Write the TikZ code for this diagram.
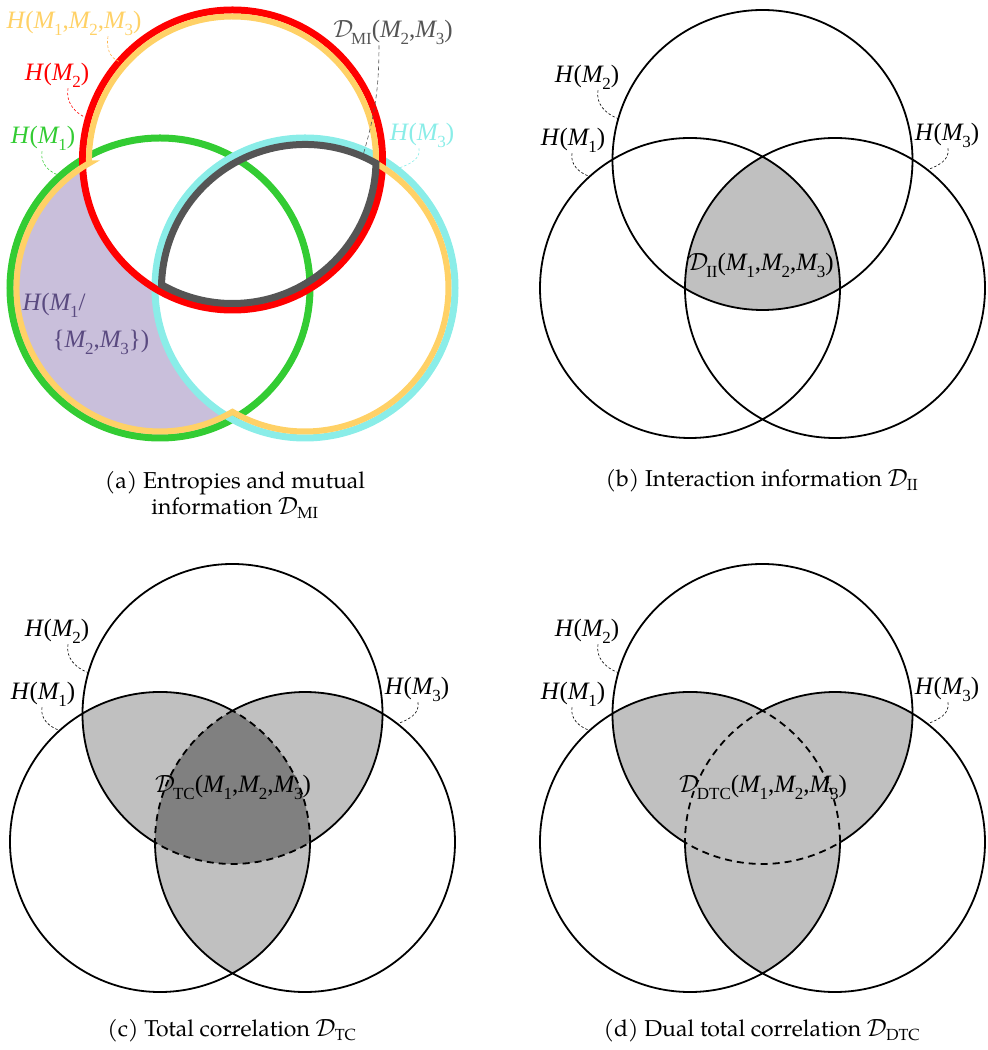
\documentclass[tikz,border=0pt]{standalone}
\usepackage{fontspec}
\setmainfont{TeX Gyre Pagella}
\newfontfamily\labfont{Liberation Serif}

\definecolor{entgreen}{HTML}{33CC33}
\definecolor{entred}{HTML}{FF0000}
\definecolor{entcyan}{HTML}{8AEDE8}
\definecolor{entyellow}{HTML}{FFD166}
\definecolor{entsquig}{HTML}{FFB347}
\definecolor{migrey}{HTML}{555555}
\definecolor{condfill}{HTML}{C9BFDB}
\definecolor{condtext}{HTML}{5A4A80}
\definecolor{lightfill}{HTML}{C0C0C0}
\definecolor{darkfill}{HTML}{808080}

% subscripts and variables of the labels
\newcommand\sbx[1]{\lower0.28em\hbox{\fontsize{17}{17}\selectfont #1}}
\newcommand\Mvar[1]{\textit{M}\kern-1.5pt\sbx{#1}}
\newcommand\Hent[1]{\textit{H}\kern-0.5pt(#1)}
\newcommand\Dlab[2]{$\mathcal{D}$\kern-2pt\sbx{#1}(#2)}

% geometry of the three circles: centres L, R (bottom) and T (top), radius 150
\newcommand\vennpoints{%
  \coordinate (cL) at (-72.5,0);
  \coordinate (cR) at (72.5,0);
  \coordinate (cT) at (0,128);
  \coordinate (pLR) at (0,131.32);
  \coordinate (qLR) at (0,-131.32);
  \coordinate (oLT) at (-150,128.43);
  \coordinate (iLT) at (77.5,-0.43);
  \coordinate (oRT) at (150,128.43);
  \coordinate (iRT) at (-77.5,-0.43);
}

\tikzset{
  lab/.style={font=\labfont\fontsize{25}{28}\selectfont, inner sep=1pt},
  squig/.style={line width=0.6pt, dash pattern=on 2.5pt off 2pt},
  capnode/.style={font=\fontsize{23}{28}\selectfont, anchor=base, inner sep=0pt},
  venn/.style={line width=1.8pt},
  fat/.style={line width=7pt},
  inner dash/.style={line width=1.8pt, dash pattern=on 7pt off 5pt},
  % regions of the diagram
  triple/.style={insert path={(pLR) arc[start angle=118.9,end angle=180.16,radius=150pt]
      arc[start angle=238.89,end angle=301.11,radius=150pt]
      arc[start angle=-0.16,end angle=61.1,radius=150pt] -- cycle}},
  lensLR/.style={insert path={(qLR) arc[start angle=-61.1,end angle=61.1,radius=150pt]
      arc[start angle=118.9,end angle=241.1,radius=150pt] -- cycle}},
  lensLT/.style={insert path={(iLT) arc[start angle=-0.16,end angle=121.11,radius=150pt]
      arc[start angle=179.84,end angle=301.11,radius=150pt] -- cycle}},
  lensRT/.style={insert path={(oRT) arc[start angle=58.89,end angle=180.16,radius=150pt]
      arc[start angle=238.89,end angle=360.16,radius=150pt] -- cycle}},
  outerarcs/.style={insert path={(pLR) arc[start angle=61.1,end angle=359.84,radius=150pt]
      (iRT) arc[start angle=180.16,end angle=478.9,radius=150pt]
      (iLT) arc[start angle=301.11,end angle=598.89,radius=150pt]}},
}

\begin{document}
\begin{tikzpicture}[x=1pt,y=1pt]
\useasboundingbox (0,0) rectangle (988,1050);

% ---------------- (a) entropies and mutual information ----------------
\begin{scope}[shift={(232.5,762)}]
  \vennpoints
  % H(M1 | {M2,M3})
  \fill[condfill] (oLT) arc[start angle=121.11,end angle=298.9,radius=150pt]
      arc[start angle=241.1,end angle=180.16,radius=150pt]
      arc[start angle=238.89,end angle=179.84,radius=150pt] -- cycle;
  \draw[fat, entgreen] (cL) circle[radius=150pt];
  \draw[fat, entcyan] (cR) circle[radius=150pt];
  \draw[fat, entred] (cT) circle[radius=150pt];
  % joint entropy: boundary of the union, just inside the circles
  \draw[line width=6pt, entyellow] (-143.47,124.73)
      arc[start angle=119.64,end angle=300.34,radius=143.5pt]
      arc[start angle=239.66,end angle=420.36,radius=143.5pt]
      arc[start angle=-1.31,end angle=181.31,radius=143.5pt] -- cycle;
  % mutual information of M2 and M3
  \draw[fat, migrey] (143.47,124.73)
      arc[start angle=60.36,end angle=178.69,radius=143.5pt]
      arc[start angle=240.36,end angle=358.69,radius=143.5pt] -- cycle;

  \node[lab, text=entyellow] (ahall) at (-158.5,265) {\Hent{\Mvar1,\Mvar2,\Mvar3}};
  \node[lab, text=entred] (ahtwo) at (-175.5,213) {\Hent{\Mvar2}};
  \node[lab, text=entgreen] (ahone) at (-189.5,150) {\Hent{\Mvar1}};
  \node[lab, text=entcyan] (ahthree) at (189.5,153) {\Hent{\Mvar3}};
  \node[lab, text=migrey] (admi) at (160.5,256) {\Dlab{MI}{\Mvar2,\Mvar3}};
  \node[lab, text=condtext, anchor=west] (acond1) at (-211,-17) {\textit{H}\kern-0.5pt(\Mvar1/};
  \node[lab, text=condtext, anchor=west] (acond2) at (-181,-54) {\{\Mvar2,\Mvar3\})};

  \coordinate (aeall) at ([shift={(139:150pt)}]cT);
  \coordinate (aetwo) at ([shift={(164:150pt)}]cT);
  \coordinate (aeone) at ([shift={(132:152pt)}]cL);
  \coordinate (aethree) at ([shift={(52:152pt)}]cR);
  \coordinate (aemi) at ([shift={(66.5:147pt)}]cR);
  \draw[squig, entsquig] ([xshift=34pt]ahall.south) to[out=-100,in=160] (aeall);
  \draw[squig, entred] ([xshift=11pt]ahtwo.south) to[out=-100,in=160] (aetwo);
  \draw[squig, entgreen] ([xshift=-1pt]ahone.south) to[out=-100,in=160] (aeone);
  \draw[squig, entcyan] ([xshift=-3pt]ahthree.south) to[out=-80,in=20] (aethree);
  \draw[squig, migrey, dash pattern=on 4pt off 3pt] ([xshift=-14pt]admi.south) to[bend left=8] (aemi);
\end{scope}
\node[capnode, anchor=north, align=center, font=\fontsize{23}{26}\selectfont] (capa) at (235,579)
  {(a) Entropies and mutual\\ information $\mathcal{D}_{\mathrm{MI}}$};

% ---------------- (b) interaction information ----------------
\begin{scope}[shift={(762.5,762)}]
  \vennpoints
  \fill[lightfill, triple];
  \draw[venn] (cL) circle[radius=150pt] (cR) circle[radius=150pt] (cT) circle[radius=150pt];
  \node[lab] (bdii) at (-1.5,23) {\Dlab{II}{\Mvar1,\Mvar2,\Mvar3}};
  \node[lab] (bhtwo) at (-175.5,211) {\Hent{\Mvar2}};
  \node[lab] (bhone) at (-189.5,148) {\Hent{\Mvar1}};
  \node[lab] (bhthree) at (184.5,153) {\Hent{\Mvar3}};
  \coordinate (betwo) at ([shift={(164:150pt)}]cT);
  \coordinate (beone) at ([shift={(132:150pt)}]cL);
  \coordinate (bethree) at ([shift={(52:150pt)}]cR);
  \draw[squig] ([xshift=11pt]bhtwo.south) to[out=-100,in=160] (betwo);
  \draw[squig] ([xshift=-1pt]bhone.south) to[out=-100,in=160] (beone);
  \draw[squig] ([xshift=1pt]bhthree.south) to[out=-80,in=20] (bethree);
\end{scope}
\node[capnode] (capb) at (762,563) {(b) Interaction information $\mathcal{D}_{\mathrm{II}}$};

% ---------------- (c) total correlation ----------------
\begin{scope}[shift={(232.5,208)}]
  \vennpoints
  \fill[lightfill, lensLR];
  \fill[lightfill, lensLT];
  \fill[lightfill, lensRT];
  \fill[darkfill, triple];
  \draw[venn, outerarcs];
  \draw[inner dash, triple];
  \node[lab] (cdtc) at (0.5,55) {\Dlab{TC}{\Mvar1,\Mvar2,\Mvar3}};
  \node[lab] (chtwo) at (-175.5,211) {\Hent{\Mvar2}};
  \node[lab] (chone) at (-189.5,148) {\Hent{\Mvar1}};
  \node[lab] (chthree) at (184.5,153) {\Hent{\Mvar3}};
  \coordinate (cetwo) at ([shift={(164:150pt)}]cT);
  \coordinate (ceone) at ([shift={(132:150pt)}]cL);
  \coordinate (cethree) at ([shift={(52:150pt)}]cR);
  \draw[squig] ([xshift=11pt]chtwo.south) to[out=-100,in=160] (cetwo);
  \draw[squig] ([xshift=-1pt]chone.south) to[out=-100,in=160] (ceone);
  \draw[squig] ([xshift=1pt]chthree.south) to[out=-80,in=20] (cethree);
\end{scope}
\node[capnode] (capc) at (232,13) {(c) Total correlation $\mathcal{D}_{\mathrm{TC}}$};

% ---------------- (d) dual total correlation ----------------
\begin{scope}[shift={(762.5,208)}]
  \vennpoints
  \fill[lightfill, lensLR];
  \fill[lightfill, lensLT];
  \fill[lightfill, lensRT];
  \draw[venn, outerarcs];
  \draw[inner dash, triple];
  \node[lab] (ddtc) at (0.5,55) {\Dlab{DTC}{\Mvar1,\Mvar2,\Mvar3}};
  \node[lab] (dhtwo) at (-175.5,211) {\Hent{\Mvar2}};
  \node[lab] (dhone) at (-189.5,148) {\Hent{\Mvar1}};
  \node[lab] (dhthree) at (184.5,153) {\Hent{\Mvar3}};
  \coordinate (detwo) at ([shift={(164:150pt)}]cT);
  \coordinate (deone) at ([shift={(132:150pt)}]cL);
  \coordinate (dethree) at ([shift={(52:150pt)}]cR);
  \draw[squig] ([xshift=11pt]dhtwo.south) to[out=-100,in=160] (detwo);
  \draw[squig] ([xshift=-1pt]dhone.south) to[out=-100,in=160] (deone);
  \draw[squig] ([xshift=1pt]dhthree.south) to[out=-80,in=20] (dethree);
\end{scope}
\node[capnode] (capd) at (762,13) {(d) Dual total correlation $\mathcal{D}_{\mathrm{DTC}}$};
\end{tikzpicture}
\end{document}
